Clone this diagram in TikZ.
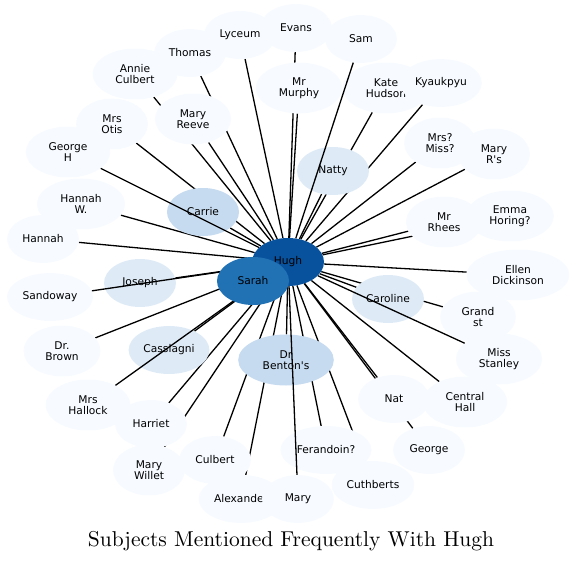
\documentclass[tikz,border=0pt]{standalone}
\usepackage{fontspec}
\newfontfamily\labelfont{DejaVu Sans}
\newfontfamily\titlefont{lmroman10-regular.otf}
\definecolor{hughblue}{HTML}{08519C}
\definecolor{sarahblue}{HTML}{2171B5}
\definecolor{midblue}{HTML}{C6DBEF}
\definecolor{lightblue}{HTML}{DEEBF7}
\definecolor{paleblue}{HTML}{F7FBFF}
\usetikzlibrary{shapes.geometric}
\pgfdeclarelayer{background}
\pgfdeclarelayer{front}
\pgfsetlayers{background,main,front}
\tikzset{
  subj/.style={ellipse, fill=paleblue, inner xsep=3pt, inner ysep=1pt,
    minimum width=72pt, minimum height=48pt, align=center,
    font=\labelfont\fontsize{10.67}{11.5}\selectfont},
  subjtwo/.style={subj, inner xsep=10.5pt, minimum height=51pt},
  link/.style={line width=1.3pt}
}

\begin{document}
\begin{tikzpicture}[x=1pt, y=-1pt]
\useasboundingbox (0,0) rectangle (577,561);
% outer ring
\node[subj] (evans) at (296,28) {Evans};
\node[subj] (sam) at (361,39) {Sam};
\node[subj] (lyceum) at (240,35) {Lyceum};
\node[subj] (thomas) at (190,53) {Thomas};
\node[subjtwo] (annie) at (135,74) {Annie\\Culbert};
\node[subjtwo] (murphy) at (299,88) {Mr\\Murphy};
\node[subjtwo] (kate) at (386,88) {Kate\\Hudson};
\node[subj] (kyaukpyu) at (441,83) {Kyaukpyu};
\node[subjtwo] (reeve) at (193,119) {Mary\\Reeve};
\node[subjtwo] (otis) at (112,124) {Mrs\\Otis};
\node[subjtwo] (georgeh) at (68,152) {George\\H};
\node[subjtwo] (missq) at (440,143) {Mrs?\\Miss?};
\node[subjtwo] (maryrs) at (494,154) {Mary\\R\textquotesingle s};
\node[subjtwo] (hannahw) at (81,204) {Hannah\\W.};
\node[subjtwo] (rhees) at (444,222) {Mr\\Rhees};
\node[subjtwo] (emma) at (510,216) {Emma\\Horing?};
\node[subj] (hannah) at (43,239) {Hannah};
\node[subjtwo] (ellen) at (518,275) {Ellen\\Dickinson};
\node[subj] (sandoway) at (50,297) {Sandoway};
\node[subjtwo] (grand) at (478,317) {Grand\\st};
\node[subjtwo] (brown) at (62,351) {Dr.\\Brown};
\node[subjtwo] (stanley) at (499,359) {Miss\\Stanley};
\node[subjtwo] (hallock) at (88,405) {Mrs\\Hallock};
\node[subj] (nat) at (394,399) {Nat};
\node[subjtwo] (central) at (465,402) {Central\\Hall};
\node[subj] (harriet) at (151,424) {Harriet};
\node[subj] (george) at (429,450) {George};
\node[subj] (ferandoin) at (326,450) {Ferandoin?};
\node[subj] (culbert) at (215,460) {Culbert};
\node[subjtwo] (willet) at (149,470) {Mary\\Willet};
\node[subj] (cuthberts) at (373,485) {Cuthberts};
\node[subj] (alexander) at (241,499) {Alexander};
\node[subj] (mary) at (298,499) {Mary};
% inner ring
\node[subj, fill=midblue] (carrie) at (203,212) {Carrie};
\node[subj, fill=lightblue] (natty) at (333,171) {Natty};
\node[subj, fill=lightblue] (joseph) at (140,283) {Joseph};
\node[subj, fill=lightblue] (casslagni) at (169,350) {Casslagni};
\node[subj, fill=lightblue] (caroline) at (388,299) {Caroline};
\node[subjtwo, fill=midblue] (benton) at (286,360) {Dr\\Benton\textquotesingle s};
\begin{pgfonlayer}{front}
\node[subj, fill=hughblue] (hugh) at (288,262) {Hugh};
\node[subj, fill=sarahblue] (sarah) at (253,281) {Sarah};
\end{pgfonlayer}
% links behind the nodes
\begin{pgfonlayer}{background}
\draw[link] (hugh) -- (evans);
\draw[link] (hugh) -- (lyceum);
\draw[link] (hugh) -- (thomas);
\draw[link] (hugh) -- (annie);
\draw[link] (hugh) -- (reeve);
\draw[link] (hugh) -- (otis);
\draw[link] (hugh) -- (hannahw);
\draw[link] (hugh) -- (hannah);
\draw[link] (hugh) -- (carrie);
\draw[link] (hugh) -- (joseph);
\draw[link] (hugh) -- (brown);
\draw[link] (hugh) -- (casslagni);
\draw[link] (hugh) -- (harriet);
\draw[link] (hugh) -- (willet);
\draw[link] (hugh) -- (culbert);
\draw[link] (hugh) -- (alexander);
\draw[link] (hugh) -- (benton);
\draw[link] (hugh) -- (ferandoin);
\draw[link] (hugh) -- (cuthberts);
\draw[link] (hugh) -- (george);
\draw[link] (hugh) -- (nat);
\draw[link] (hugh) -- (central);
\draw[link] (hugh) -- (caroline);
\draw[link] (hugh) -- (grand);
\draw[link] (hugh) -- (ellen);
\draw[link] (hugh) -- (rhees);
\draw[link] (hugh) -- (emma);
\draw[link] (hugh) -- (maryrs);
\draw[link] (hugh) -- (missq);
\draw[link] (hugh) -- (kyaukpyu);
\draw[link] (hugh) -- (kate);
\draw[link] (hugh) -- (natty);
\draw[link] (hugh) -- (murphy);
\draw[link] (hugh) -- (sarah);
\end{pgfonlayer}
% links over the nodes
\draw[link] (hugh) -- (georgeh);
\draw[link] (hugh) -- (sandoway);
\draw[link] (hugh) -- (hallock);
\draw[link] (hugh) -- (stanley);
\draw[link] (hugh) -- (sam);
\draw[link] (hugh) -- (mary);
\node[font=\titlefont\fontsize{21.5}{25}\selectfont, anchor=base] (title) at (291,546) {Subjects Mentioned Frequently With Hugh};
\end{tikzpicture}
\end{document}
